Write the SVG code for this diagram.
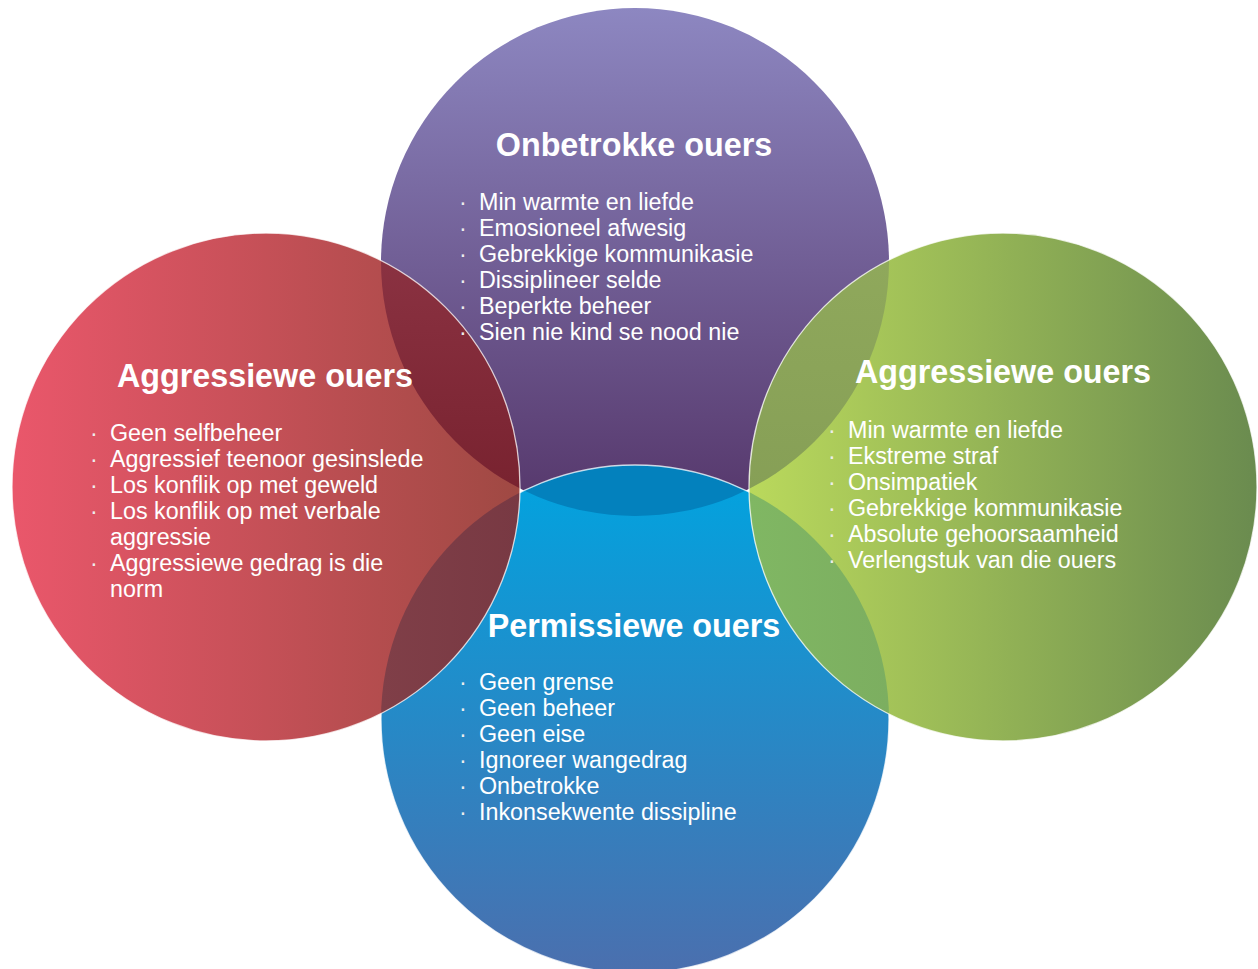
<svg xmlns="http://www.w3.org/2000/svg" width="1258" height="969" viewBox="0 0 1258 969">
  <defs>
    <style>
      .title { font-family: "Liberation Sans", Arial, sans-serif; font-weight: bold; font-size: 32.3px; fill: #ffffff; text-anchor: middle; }
      .item { font-family: "Liberation Sans", Arial, sans-serif; font-size: 23.3px; fill: #ffffff; }
      .dot { font-family: "Liberation Sans", Arial, sans-serif; font-size: 23.3px; fill: #eeeeee; }
      .rim { fill: none; stroke: #ffffff; stroke-width: 1.3; stroke-opacity: 0.75; }
    </style>
    <linearGradient id="gPurple" gradientUnits="userSpaceOnUse" x1="0" y1="8" x2="0" y2="516">
      <stop offset="0" stop-color="#8d87c1"/>
      <stop offset="1" stop-color="#55366a"/>
    </linearGradient>
    <linearGradient id="gBlue" gradientUnits="userSpaceOnUse" x1="0" y1="465" x2="0" y2="973">
      <stop offset="0" stop-color="#00a4e0"/>
      <stop offset="1" stop-color="#4b6fae"/>
    </linearGradient>
    <linearGradient id="gRed" gradientUnits="userSpaceOnUse" x1="12" y1="0" x2="520" y2="0">
      <stop offset="0" stop-color="#ea576b"/>
      <stop offset="1" stop-color="#9f4943"/>
    </linearGradient>
    <linearGradient id="gGreen" gradientUnits="userSpaceOnUse" x1="749" y1="0" x2="1257" y2="0">
      <stop offset="0" stop-color="#bad95c"/>
      <stop offset="1" stop-color="#6a8b4f"/>
    </linearGradient>
    <linearGradient id="gPurpleRed" gradientUnits="userSpaceOnUse" x1="0" y1="240" x2="0" y2="495">
      <stop offset="0" stop-color="#8c3343"/>
      <stop offset="1" stop-color="#78222f"/>
    </linearGradient>
    <linearGradient id="gBlueRed" gradientUnits="userSpaceOnUse" x1="380" y1="0" x2="520" y2="0">
      <stop offset="0" stop-color="#803f48"/>
      <stop offset="1" stop-color="#783943"/>
    </linearGradient>
    <linearGradient id="gPurpleGreen" gradientUnits="userSpaceOnUse" x1="0" y1="240" x2="0" y2="495">
      <stop offset="0" stop-color="#90a95c"/>
      <stop offset="1" stop-color="#869f56"/>
    </linearGradient>
    <linearGradient id="gBlueGreen" gradientUnits="userSpaceOnUse" x1="750" y1="0" x2="890" y2="0">
      <stop offset="0" stop-color="#80b763"/>
      <stop offset="1" stop-color="#7cae60"/>
    </linearGradient>
    <clipPath id="clipPurple"><circle cx="635" cy="262" r="254"/></clipPath>
    <clipPath id="clipBlue"><circle cx="635" cy="719" r="254"/></clipPath>
  </defs>

  <rect width="1258" height="969" fill="#ffffff"/>

  <!-- circles, back to front -->
  <g id="shapes">
    <circle id="circle-onbetrokke" cx="635" cy="262" r="254" fill="url(#gPurple)"/>
    <circle id="circle-permissiewe" cx="635" cy="719" r="254" fill="url(#gBlue)"/>
    <circle cx="635" cy="719" r="254" clip-path="url(#clipPurple)" fill="#0381bd"/>
    <circle cx="635" cy="719" r="254" class="rim"/>

    <circle id="circle-aggressiewe-links" cx="266" cy="487" r="254" fill="url(#gRed)"/>
    <circle cx="266" cy="487" r="254" clip-path="url(#clipPurple)" fill="url(#gPurpleRed)"/>
    <circle cx="266" cy="487" r="254" clip-path="url(#clipBlue)" fill="url(#gBlueRed)"/>
    <circle cx="266" cy="487" r="254" class="rim"/>

    <circle id="circle-aggressiewe-regs" cx="1003" cy="487" r="254" fill="url(#gGreen)"/>
    <circle cx="1003" cy="487" r="254" clip-path="url(#clipPurple)" fill="url(#gPurpleGreen)"/>
    <circle cx="1003" cy="487" r="254" clip-path="url(#clipBlue)" fill="url(#gBlueGreen)"/>
    <circle cx="1003" cy="487" r="254" class="rim"/>
  </g>

  <!-- labels of each parenting style -->
  <g id="node-onbetrokke">
    <text class="title" x="634" y="156">Onbetrokke ouers</text>
    <g class="dot">
      <text x="459" y="209.5">·</text><text x="459" y="235.5">·</text><text x="459" y="261.5">·</text>
      <text x="459" y="287.5">·</text><text x="459" y="313.5">·</text><text x="459" y="339.5">·</text>
    </g>
    <text class="item" x="479" y="209.5">Min warmte en liefde</text>
    <text class="item" x="479" y="235.5">Emosioneel afwesig</text>
    <text class="item" x="479" y="261.5">Gebrekkige kommunikasie</text>
    <text class="item" x="479" y="287.5">Dissiplineer selde</text>
    <text class="item" x="479" y="313.5">Beperkte beheer</text>
    <text class="item" x="479" y="339.5">Sien nie kind se nood nie</text>
  </g>

  <g id="node-aggressiewe-links">
    <text class="title" x="265" y="387">Aggressiewe ouers</text>
    <g class="dot">
      <text x="90" y="440.5">·</text><text x="90" y="466.5">·</text><text x="90" y="492.5">·</text>
      <text x="90" y="518.5">·</text><text x="90" y="570.5">·</text>
    </g>
    <text class="item" x="110" y="440.5">Geen selfbeheer</text>
    <text class="item" x="110" y="466.5">Aggressief teenoor gesinslede</text>
    <text class="item" x="110" y="492.5">Los konflik op met geweld</text>
    <text class="item" x="110" y="518.5">Los konflik op met verbale</text>
    <text class="item" x="110" y="544.5">aggressie</text>
    <text class="item" x="110" y="570.5">Aggressiewe gedrag is die</text>
    <text class="item" x="110" y="596.5">norm</text>
  </g>

  <g id="node-aggressiewe-regs">
    <text class="title" x="1003" y="383">Aggressiewe ouers</text>
    <g class="dot">
      <text x="828" y="437.5">·</text><text x="828" y="463.5">·</text><text x="828" y="489.5">·</text>
      <text x="828" y="515.5">·</text><text x="828" y="541.5">·</text><text x="828" y="567.5">·</text>
    </g>
    <text class="item" x="848" y="437.5">Min warmte en liefde</text>
    <text class="item" x="848" y="463.5">Ekstreme straf</text>
    <text class="item" x="848" y="489.5">Onsimpatiek</text>
    <text class="item" x="848" y="515.5">Gebrekkige kommunikasie</text>
    <text class="item" x="848" y="541.5">Absolute gehoorsaamheid</text>
    <text class="item" x="848" y="567.5">Verlengstuk van die ouers</text>
  </g>

  <g id="node-permissiewe">
    <text class="title" x="634" y="637">Permissiewe ouers</text>
    <g class="dot">
      <text x="459" y="690">·</text><text x="459" y="716">·</text><text x="459" y="742">·</text>
      <text x="459" y="768">·</text><text x="459" y="794">·</text><text x="459" y="820">·</text>
    </g>
    <text class="item" x="479" y="690">Geen grense</text>
    <text class="item" x="479" y="716">Geen beheer</text>
    <text class="item" x="479" y="742">Geen eise</text>
    <text class="item" x="479" y="768">Ignoreer wangedrag</text>
    <text class="item" x="479" y="794">Onbetrokke</text>
    <text class="item" x="479" y="820">Inkonsekwente dissipline</text>
  </g>
</svg>
